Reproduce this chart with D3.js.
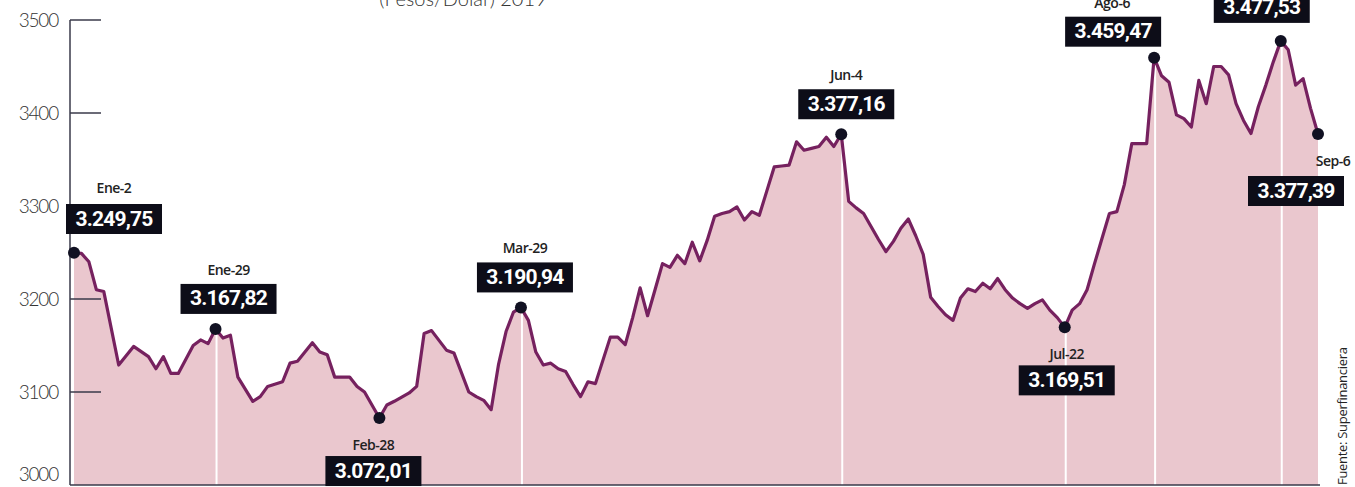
<!DOCTYPE html>
<html>
<head>
<meta charset="utf-8">
<script src="https://cdn.jsdelivr.net/npm/d3@7"></script>
<style>
  html, body { margin: 0; padding: 0; background: #ffffff; }
  svg { display: block; }
</style>
</head>
<body>
<svg id="chart" width="1355" height="487"></svg>
<script>
// Trading-day index (0 = Ene-2, 167 = Sep-6) and TRM value (pesos per dollar)
const dayIndex = [0,1,2,3,4,6,8,10,11,12,13,14,16,17,18,19,20,21,22,24,25,26,28,29,30,32,33,34,35,37,38,39,41,42,43,45,46,47,48,50,51,53,54,55,56,57,58,59,60,61,62,63,64,65,66,67,68,69,70,72,73,74,75,76,77,78,79,80,81,82,83,84,85,86,87,88,89,90,91,92,93,94,95,96,97,98,99,100,101,102,103,104,105,106,107,108,109,110,111,112,113,114,115,116,117,118,119,120,121,122,123,124,125,126,127,128,129,130,131,132,133,134,135,136,137,138,139,140,141,142,143,144,145,146,147,148,149,150,151,152,153,154,155,156,157,158,159,160,161,162,163,164,165,166,167];
const trm = [3249.75,3249,3240,3210,3208,3129,3149,3138,3125,3138,3120,3120,3150,3156,3152,3167.82,3158,3161,3116,3090,3095,3106,3111,3131,3133,3153,3143,3140,3116,3116,3106,3100,3072.01,3086,3090,3099,3106,3163,3166,3145,3142,3100,3095,3091,3081,3130,3165,3186,3190.94,3177,3143,3129,3131,3125,3122,3108,3095,3111,3109,3159,3159,3151,3180,3212,3182,3210,3238,3234,3247,3238,3261,3241,3263,3289,3292,3294,3299,3285,3294,3290,3316,3342,3343,3344,3369,3360,3362,3364,3374,3364,3377.16,3305,3298,3292,3278,3264,3251,3262,3276,3286,3268,3248,3202,3192,3183,3177,3201,3211,3208,3217,3211,3222,3210,3201,3195,3190,3195,3199,3188,3180,3169.51,3188,3195,3210,3238,3265,3292,3294,3323,3367,3367,3367,3459.47,3440,3433,3398,3394,3385,3435,3410,3450,3450,3441,3410,3392,3378,3407,3430,3455,3477.53,3468,3430,3437,3405,3377.39];

// Highlighted points
const markDay   = [0, 19, 41, 60, 103, 133, 145, 162, 167];
const markDate  = ["Ene-2", "Ene-29", "Feb-28", "Mar-29", "Jun-4", "Jul-22", "Ago-6", "Ago-27", "Sep-6"];
const markValue = ["3.249,75", "3.167,82", "3.072,01", "3.190,94", "3.377,16", "3.169,51", "3.459,47", "3.477,53", "3.377,39"];
const markPos   = ["above", "above", "below", "above", "above", "below", "above", "above", "below"];
const dropLine  = [false, true, false, true, true, true, true, true, false];

const yTicks = [3000, 3100, 3200, 3300, 3400, 3500];
const titleText = "(Pesos/Dólar) 2019";
const sourceText = "Fuente: Superfinanciera";

const svg = d3.select("#chart");
const x = d3.scaleLinear().domain([0, 167]).range([74, 1318]);
const y = d3.scaleLinear().domain([3000, 3500]).range([485, 20]);

const data = dayIndex.map((d, i) => ({ d, v: trm[i] }));

// Title (partly cut off at top, as in the source page)
svg.append("text")
  .attr("x", 463).attr("y", 6)
  .attr("text-anchor", "middle")
  .attr("font-family", "Lato, 'Open Sans', sans-serif")
  .attr("font-weight", 300)
  .attr("font-size", 20)
  .attr("fill", "#333")
  .text(titleText);

// Area
const area = d3.area().x(p => x(p.d)).y0(y(3000)).y1(p => y(p.v));
svg.append("path").datum(data)
  .attr("d", area)
  .attr("fill", "#eac7ce");

// White drop lines
markDay.forEach((d, i) => {
  if (!dropLine[i]) return;
  const v = trm[dayIndex.indexOf(d)];
  svg.append("line")
    .attr("x1", x(d) + 1).attr("x2", x(d) + 1)
    .attr("y1", y(v) + 6).attr("y2", y(3000))
    .attr("stroke", "#ffffff").attr("stroke-width", 2);
});

// Line
const line = d3.line().x(p => x(p.d)).y(p => y(p.v));
svg.append("path").datum(data)
  .attr("d", line)
  .attr("fill", "none")
  .attr("stroke", "#76215f")
  .attr("stroke-width", 3.2)
  .attr("stroke-linejoin", "round");

// Y axis
const yAxis = d3.axisLeft(y).tickValues(yTicks).tickSize(0).tickPadding(12).tickFormat(d3.format("d"));
const gy = svg.append("g").attr("transform", "translate(70,0)").call(yAxis);
gy.select(".domain").remove();
gy.selectAll("text")
  .attr("font-family", "Lato, 'Open Sans', sans-serif")
  .attr("font-weight", 300)
  .attr("font-size", 19)
  .attr("letter-spacing", -1.2)
  .attr("fill", "#333");
gy.selectAll(".tick").filter(d => d === 3000).select("text").attr("dy", "-0.25em");
svg.append("line").attr("x1", 70).attr("x2", 70).attr("y1", y(3500)).attr("y2", y(3000))
  .attr("stroke", "#3a3a4a").attr("stroke-width", 1.5);
yTicks.filter(t => t > 3000).forEach(t => {
  svg.append("line").attr("x1", 70).attr("x2", 101).attr("y1", y(t)).attr("y2", y(t))
    .attr("stroke", "#3a3a4a").attr("stroke-width", 1.5);
});
svg.append("line").attr("x1", 70).attr("x2", 1320).attr("y1", y(3000)).attr("y2", y(3000))
  .attr("stroke", "#3a3a4a").attr("stroke-width", 1.5);

// Markers and labels
const boxW = 96, boxH = 30;
markDay.forEach((d, i) => {
  const v = trm[dayIndex.indexOf(d)];
  const cx = x(d), cy = y(v);

  let lx = cx + 10;
  if (i === 0) lx = cx + 40;
  if (i === 1) lx = cx + 13;
  if (i === 2) lx = cx - 6;
  if (i === 3) lx = cx + 4;
  if (i === 4) lx = cx + 5;
  if (i === 5) lx = cx + 2;
  if (i === 6) lx = cx - 41;
  if (i === 7) lx = cx - 19;
  if (i === 8) lx = cx - 22;

  let boxTop, dateY;
  if (markPos[i] === "above") {
    let gap = 15;
    if (i === 6) gap = 11;
    if (i === 7) gap = 18;
    boxTop = cy - gap - boxH;
    dateY = boxTop - 9;
  } else {
    dateY = cy + 32;
    boxTop = dateY + 6;
  }
  if (i === 0) { boxTop = 204; dateY = 193; }
  if (i === 8) { boxTop = 176; dateY = 166; }
  const dateX = (i === 8) ? cx + 15 : (i === 6 ? lx - 1 : lx);

  svg.append("circle").attr("cx", cx).attr("cy", cy).attr("r", 6).attr("fill", "#111122");

  svg.append("text")
    .attr("x", dateX).attr("y", dateY)
    .attr("text-anchor", "middle")
    .attr("font-family", "'Open Sans', Lato, sans-serif")
    .attr("font-weight", 600)
    .attr("font-size", 14)
    .attr("letter-spacing", -0.5)
    .attr("fill", "#222")
    .text(markDate[i]);
  svg.append("rect")
    .attr("x", lx - boxW / 2).attr("y", boxTop)
    .attr("width", boxW).attr("height", boxH)
    .attr("fill", "#0d0d18");
  svg.append("text")
    .attr("x", lx).attr("y", boxTop + boxH / 2 + 1)
    .attr("text-anchor", "middle")
    .attr("dominant-baseline", "middle")
    .attr("font-family", "Roboto, 'Open Sans', sans-serif")
    .attr("font-weight", 700)
    .attr("font-size", 21)
    .attr("letter-spacing", -0.8)
    .attr("fill", "#ffffff")
    .text(markValue[i]);
});

// Source
svg.append("text")
  .attr("transform", "translate(1347,485) rotate(-90)")
  .attr("font-family", "'Open Sans', Lato, sans-serif")
  .attr("font-weight", 500)
  .attr("font-size", 13)
  .attr("letter-spacing", -0.3)
  .attr("fill", "#222")
  .text(sourceText);
</script>
</body>
</html>
